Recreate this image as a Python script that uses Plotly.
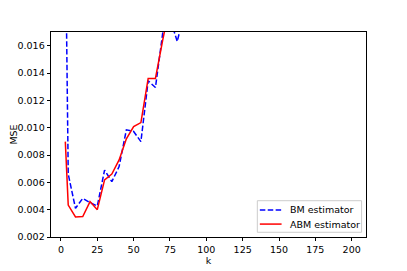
import plotly.graph_objects as go

# k-Werte und MSE der beiden Schätzer
k_bm = [3, 5, 10, 15, 20, 25, 30, 35, 40, 45, 50, 55, 60, 65, 70, 75, 80, 85]
mse_bm = [0.0250, 0.0066, 0.0041, 0.00483, 0.00451, 0.00427, 0.0069, 0.00605,
          0.00715, 0.00984, 0.00972, 0.00898, 0.01343, 0.01294, 0.01692, 0.0180,
          0.01631, 0.0185]

k_abm = [3, 5, 10, 15, 20, 25, 30, 35, 40, 45, 50, 55, 60, 65, 70, 75]
mse_abm = [0.00898, 0.00434, 0.00347, 0.00350, 0.00459, 0.00400, 0.00618, 0.00660,
           0.00764, 0.00918, 0.01008, 0.01037, 0.01360, 0.01360, 0.01640, 0.0190]

x_ticks = [0, 25, 50, 75, 100, 125, 150, 175, 200]
y_ticks = [0.002, 0.004, 0.006, 0.008, 0.010, 0.012, 0.014, 0.016]

BLUE = '#0000ff'
RED = '#ff0000'
BM_DASH = '5.5px,2.4px'

fig = go.Figure()
fig.add_trace(go.Scatter(x=k_bm, y=mse_bm, mode='lines', name='BM estimator',
                         line=dict(color=BLUE, width=1.5, dash=BM_DASH)))
fig.add_trace(go.Scatter(x=k_abm, y=mse_abm, mode='lines', name='ABM estimator',
                         line=dict(color=RED, width=1.5)))

axis_style = dict(showline=True, linecolor='black', linewidth=0.8, mirror=True,
                  ticks='outside', ticklen=3.5, tickwidth=0.8, tickcolor='black',
                  showgrid=False, zeroline=False, automargin=False,
                  tickfont=dict(family='DejaVu Sans', size=9.5, color='black'))

# Legende im matplotlib-Stil (kompakter als die plotly-Legende)
fig.add_shape(type='rect', xref='paper', yref='paper', x0=0.655, x1=0.986, y0=0.023, y1=0.177,
              line=dict(color='#cccccc', width=1), fillcolor='rgba(255,255,255,0.8)')
legend_rows = [('BM estimator', BLUE, BM_DASH, 0.132), ('ABM estimator', RED, 'solid', 0.063)]
for label, color, dash, ypos in legend_rows:
    fig.add_shape(type='line', xref='paper', yref='paper', x0=0.663, x1=0.732, y0=ypos, y1=ypos,
                  line=dict(color=color, width=1.5, dash=dash))
    fig.add_annotation(xref='paper', yref='paper', x=0.753, y=ypos, text=label, showarrow=False,
                       xanchor='left', yanchor='middle',
                       font=dict(family='DejaVu Sans', size=9.5, color='black'))

# die Seite hat 8px Body-Rand, deshalb sind die Ränder verschoben
fig.update_layout(
    width=407, height=271,
    margin=dict(l=43, r=49, t=24, b=42),
    paper_bgcolor='white', plot_bgcolor='white',
    font=dict(family='DejaVu Sans', size=9, color='black'),
    xaxis=dict(range=[-6.85, 209.85], tickvals=x_ticks,
               title=dict(text='k', standoff=2, font=dict(size=9.5, color='black')),
               **axis_style),
    yaxis=dict(range=[0.002, 0.017], tickvals=y_ticks, tickformat='.3f',
               title=dict(text='MSE', standoff=11, font=dict(size=9.5, color='black')),
               **axis_style),
    showlegend=False,
)

fig.write_html("out.html")
